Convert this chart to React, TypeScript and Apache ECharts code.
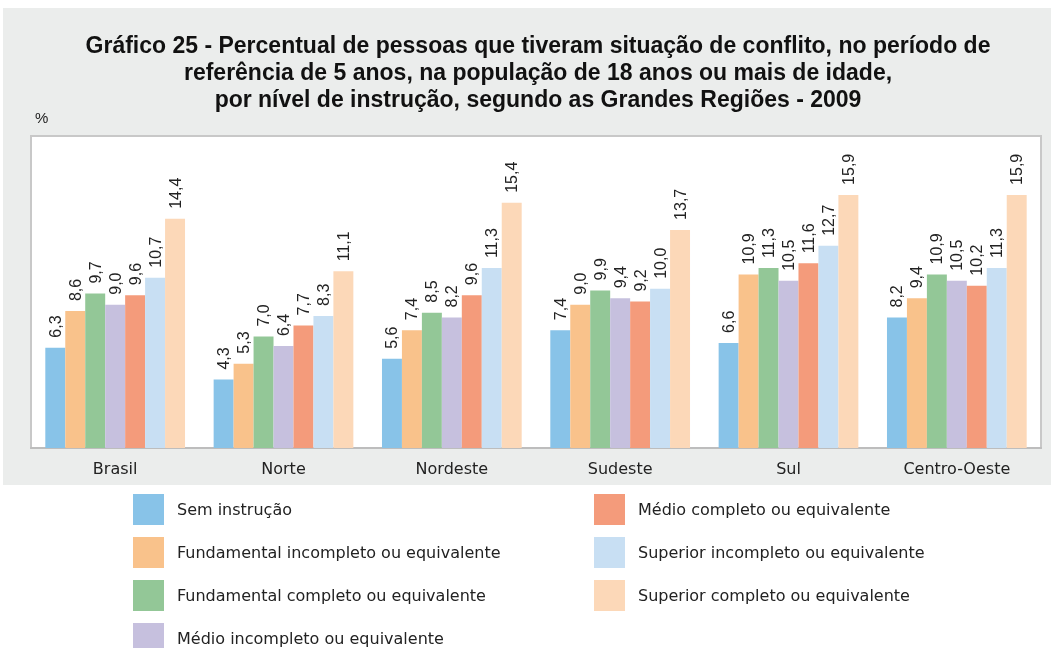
import React, { useEffect, useRef } from "react";
import * as echarts from "echarts";

const categories = ["Brasil", "Norte", "Nordeste", "Sudeste", "Sul", "Centro-Oeste"];
const seriesNames = [
  "Sem instrução",
  "Fundamental incompleto ou equivalente",
  "Fundamental completo ou equivalente",
  "Médio incompleto ou equivalente",
  "Médio completo ou equivalente",
  "Superior incompleto ou equivalente",
  "Superior completo ou equivalente",
];
const colors = ["#88c3e8", "#f9c28b", "#93c797", "#c6c0de", "#f49b7b", "#c8dff3", "#fcd8b8"];
const semInstrucao = [6.3, 4.3, 5.6, 7.4, 6.6, 8.2];
const fundIncompleto = [8.6, 5.3, 7.4, 9.0, 10.9, 9.4];
const fundCompleto = [9.7, 7.0, 8.5, 9.9, 11.3, 10.9];
const medioIncompleto = [9.0, 6.4, 8.2, 9.4, 10.5, 10.5];
const medioCompleto = [9.6, 7.7, 9.6, 9.2, 11.6, 10.2];
const supIncompleto = [10.7, 8.3, 11.3, 10.0, 12.7, 11.3];
const supCompleto = [14.4, 11.1, 15.4, 13.7, 15.9, 15.9];
const values = [semInstrucao, fundIncompleto, fundCompleto, medioIncompleto, medioCompleto, supIncompleto, supCompleto];

export default function App() {
  const ref = useRef<HTMLDivElement>(null);
  useEffect(() => {
    const chart = echarts.init(ref.current!, null, { renderer: "svg" });
    const font = "'Liberation Sans', Arial, sans-serif";
    const wideFont = "'DejaVu Sans', 'Liberation Sans', sans-serif";
    const legendBase = {
      orient: "vertical",
      top: 494,
      height: 160,
      padding: 0,
      itemWidth: 31,
      itemHeight: 31,
      itemGap: 12,
      icon: "rect",
      textStyle: { fontSize: 16, color: "#222", padding: [0, 0, 0, 8], fontFamily: wideFont },
      selectedMode: false,
    };
    chart.setOption({
      animation: false,
      textStyle: { fontFamily: font },
      graphic: [
        { type: "rect", z: -10, shape: { x: 3, y: 8, width: 1048, height: 477 }, style: { fill: "#ebedec" }, silent: true },
        {
          type: "text",
          x: 538,
          y: 31,
          style: {
            text: "Gráfico 25 - Percentual de pessoas que tiveram situação de conflito, no período de\nreferência de 5 anos, na população de 18 anos ou mais de idade,\npor nível de instrução, segundo as Grandes Regiões - 2009",
            font: "bold 23px 'Liberation Sans Narrow', 'Liberation Sans', sans-serif",
            fill: "#111",
            align: "center",
            verticalAlign: "top",
            lineHeight: 27,
          },
        },
        { type: "text", x: 35, y: 110, style: { text: "%", font: "15px " + font, fill: "#222" } },
      ],
      legend: [
        { ...legendBase, left: 133, data: seriesNames.slice(0, 4) },
        { ...legendBase, left: 594, data: seriesNames.slice(4) },
      ],
      grid: {
        left: 31,
        top: 136,
        width: 1010,
        height: 312,
        show: true,
        backgroundColor: "#ffffff",
        borderColor: "#c8c8c8",
        borderWidth: 2,
      },
      xAxis: {
        type: "category",
        data: categories,
        axisTick: { show: false },
        axisLine: { lineStyle: { color: "#bdbdbd", width: 2 } },
        axisLabel: { fontSize: 16, color: "#222", margin: 12, fontFamily: wideFont },
      },
      yAxis: {
        type: "value",
        min: 0,
        max: 19.6,
        show: false,
        splitLine: { show: false },
      },
      series: values.map((v, i) => ({
        type: "bar",
        name: seriesNames[i],
        data: v,
        barGap: "0%",
        barCategoryGap: "17%",
        itemStyle: { color: colors[i] },
        label: {
          show: true,
          position: "top",
          rotate: 90,
          align: "left",
          verticalAlign: "middle",
          distance: 10,
          fontSize: 16,
          color: "#222",
          fontFamily: font,
          formatter: (p: any) => p.value.toFixed(1).replace(".", ","),
        },
      })),
    });
    return () => chart.dispose();
  }, []);
  return <div ref={ref} style={{ position: "fixed", left: 0, top: 0, width: 1051, height: 648 }} />;
}
